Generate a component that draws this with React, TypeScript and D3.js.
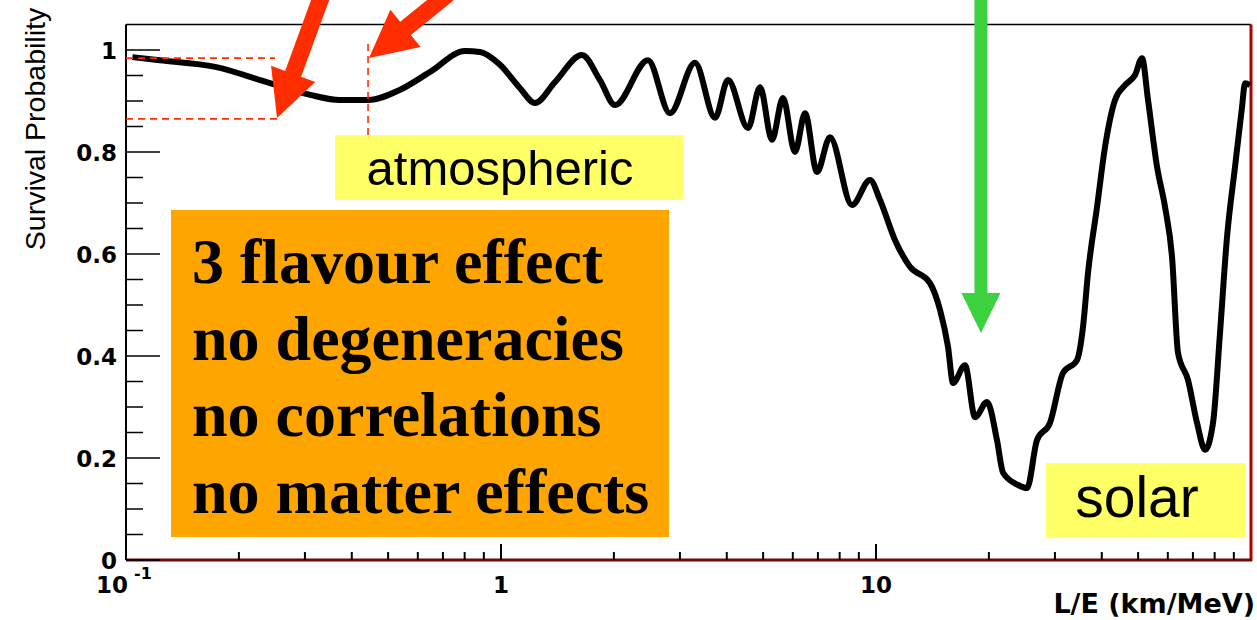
import React from "react";
import * as d3 from "d3";

// survival probability vs L/E
const leValues = [0.104, 0.123, 0.173, 0.242, 0.31, 0.372, 0.442, 0.538, 0.647, 0.802, 0.879, 0.994, 1.124, 1.232, 1.393, 1.644, 1.836, 2.014, 2.466, 2.823, 3.291, 3.722, 4.03, 4.558, 4.907, 5.28, 5.649, 6.081, 6.468, 6.96, 7.54, 8.63, 9.64, 10.25, 11.24, 12.32, 13.93, 14.82, 15.56, 16.05, 17.27, 18.37, 19.77, 21.02, 21.82, 23.92, 25.28, 26.87, 29.11, 31.53, 34.36, 35.65, 36.76, 38.85, 40.81, 43.39, 46.13, 49.06, 51.21, 53.14, 56.16, 58.99, 61.58, 63.89, 67.92, 71.78, 75.4, 79.2, 82.67, 86.3, 90.66, 94.63, 96.39, 99.4];
const survival = [0.986, 0.98, 0.967, 0.935, 0.912, 0.902, 0.902, 0.922, 0.957, 0.998, 0.996, 0.971, 0.925, 0.896, 0.937, 0.99, 0.941, 0.892, 0.98, 0.876, 0.975, 0.867, 0.941, 0.847, 0.927, 0.824, 0.906, 0.8, 0.876, 0.761, 0.829, 0.696, 0.745, 0.706, 0.627, 0.575, 0.543, 0.49, 0.418, 0.347, 0.382, 0.28, 0.31, 0.235, 0.171, 0.147, 0.141, 0.235, 0.269, 0.367, 0.392, 0.457, 0.563, 0.692, 0.81, 0.902, 0.931, 0.951, 0.984, 0.902, 0.771, 0.692, 0.594, 0.406, 0.353, 0.269, 0.216, 0.269, 0.445, 0.633, 0.771, 0.888, 0.935, 0.931];

const yMajorTicks = [0, 0.2, 0.4, 0.6, 0.8, 1];
const yTickLabels = ["0", "0.2", "0.4", "0.6", "0.8", "1"];
const xMajorTicks = [1, 10];
const xTickLabels = ["1", "10"];
const boxLines = ["3 flavour effect", "no degeneracies", "no correlations", "no matter effects"];

const RED = "#ff2d00";
const GREEN = "#3cd13f";
const AXIS_FONT = "DejaVu Sans, Verdana, sans-serif";

// polygon for a thick arrow from tail to tip
function arrowPoints(x0: number, y0: number, x1: number, y1: number, shaftW: number, headW: number, headL: number) {
  const len = Math.hypot(x1 - x0, y1 - y0);
  const ux = (x1 - x0) / len, uy = (y1 - y0) / len;
  const px = -uy, py = ux;
  const bx = x1 - ux * headL, by = y1 - uy * headL;
  const pts = [
    [x0 + px * shaftW / 2, y0 + py * shaftW / 2],
    [bx + px * shaftW / 2, by + py * shaftW / 2],
    [bx + px * headW / 2, by + py * headW / 2],
    [x1, y1],
    [bx - px * headW / 2, by - py * headW / 2],
    [bx - px * shaftW / 2, by - py * shaftW / 2],
    [x0 - px * shaftW / 2, y0 - py * shaftW / 2],
  ];
  return pts.map((p) => p.join(",")).join(" ");
}

const App = () => {
  const width = 1257, height = 620;
  const x = d3.scaleLog().domain([0.1, 100]).range([126, 1251]);
  const y = d3.scaleLinear().domain([0, 1.05]).range([560, 24.5]);

  const pts = leValues.map((v, i) => [v, survival[i]] as [number, number]);
  const line = d3.line<[number, number]>()
    .x((d) => x(d[0]))
    .y((d) => y(d[1]))
    .curve(d3.curveMonotoneX);

  const yMinor = d3.range(0, 1.001, 0.05).filter((v) => Math.abs(v * 5 - Math.round(v * 5)) > 1e-6);
  const xMinor: number[] = [];
  [0.1, 1, 10].forEach((dec) => { for (let k = 2; k <= 9; k++) xMinor.push(dec * k); });

  const atmX = 0.442; // vertical dashed marker
  const solarX = 19.05; // green arrow position

  return (
    <svg width={width} height={height} style={{ position: "absolute", left: 0, top: 0, background: "#fff" }}>
      {/* frame */}
      <line x1={x(0.1)} x2={x(100)} y1={y(1.05)} y2={y(1.05)} stroke="#000" strokeWidth={1.5} />
      <line x1={x(0.1)} x2={x(0.1)} y1={y(1.05)} y2={y(0)} stroke="#000" strokeWidth={2} />
      <line x1={x(100)} x2={x(100)} y1={y(1.05)} y2={y(0) + 1} stroke="#b00000" strokeWidth={3} />
      <line x1={x(0.1)} x2={x(100) + 1} y1={y(0)} y2={y(0)} stroke="#6a0a0a" strokeWidth={3} />

      {/* y ticks */}
      {yMajorTicks.map((v) => (
        <line key={"ym" + v} x1={x(0.1)} x2={x(0.1) + 34} y1={y(v)} y2={y(v)} stroke="#000" strokeWidth={1.5} />
      ))}
      {yMinor.map((v) => (
        <line key={"yn" + v} x1={x(0.1)} x2={x(0.1) + 17} y1={y(v)} y2={y(v)} stroke="#000" strokeWidth={1.5} />
      ))}
      {yMajorTicks.map((v, i) => (
        <text key={"yl" + v} x={117} y={y(v) + 9} textAnchor="end" fontFamily={AXIS_FONT} fontWeight="bold" fontSize={23}>
          {yTickLabels[i]}
        </text>
      ))}

      {/* x ticks */}
      {xMajorTicks.map((v) => (
        <line key={"xm" + v} x1={x(v)} x2={x(v)} y1={y(0)} y2={y(0) - 16} stroke="#000" strokeWidth={2} />
      ))}
      {xMinor.map((v) => (
        <line key={"xn" + v} x1={x(v)} x2={x(v)} y1={y(0)} y2={y(0) - 8} stroke="#000" strokeWidth={2} />
      ))}
      {xMajorTicks.map((v, i) => (
        <text key={"xl" + v} x={x(v)} y={593} textAnchor="middle" fontFamily={AXIS_FONT} fontWeight="bold" fontSize={23}>
          {xTickLabels[i]}
        </text>
      ))}
      <text x={x(0.1) - 14} y={593} textAnchor="middle" fontFamily={AXIS_FONT} fontWeight="bold" fontSize={23}>10</text>
      <text x={x(0.1) + 17} y={579} textAnchor="middle" fontFamily={AXIS_FONT} fontWeight="bold" fontSize={16}>-1</text>

      {/* axis titles */}
      <text x={1255} y={613} textAnchor="end" fontFamily={AXIS_FONT} fontWeight="bold" fontSize={27}>
        L/E (km/MeV)
      </text>
      <text transform="translate(45,129) rotate(-90)" textAnchor="middle" fontFamily="Liberation Sans, Arial, sans-serif" fontSize={28.5}>
        Survival Probability
      </text>

      {/* the curve */}
      <path d={line(pts) || ""} fill="none" stroke="#000" strokeWidth={6} strokeLinejoin="round" />

      {/* red dashed guides */}
      <line x1={x(0.1)} x2={275} y1={y(0.984)} y2={y(0.984)} stroke={RED} strokeWidth={1.6} strokeDasharray="7,5" />
      <line x1={x(0.1)} x2={277} y1={y(0.865)} y2={y(0.865)} stroke={RED} strokeWidth={1.6} strokeDasharray="7,5" />
      <line x1={x(atmX)} x2={x(atmX)} y1={44} y2={136} stroke={RED} strokeWidth={1.6} strokeDasharray="7,5" />

      {/* arrows */}
      <polygon points={arrowPoints(322, -5, 277, 118, 17, 47, 47)} fill={RED} />
      <polygon points={arrowPoints(448, -6, 369, 58, 17, 48, 47)} fill={RED} />
      <polygon points={arrowPoints(x(solarX), -5, x(solarX), 333, 13, 39, 40)} fill={GREEN} />

      {/* labels */}
      <rect x={335} y={135} width={348} height={65} fill="#ffff66" />
      <text x={500} y={185} textAnchor="middle" fontFamily="Liberation Sans, Arial, sans-serif" fontSize={49}>atmospheric</text>

      <rect x={1046} y={463} width={199} height={75} fill="#ffff66" />
      <text x={1137} y={517} textAnchor="middle" fontFamily="Liberation Sans, Arial, sans-serif" fontSize={57}>solar</text>

      <rect x={171} y={210} width={498} height={327} fill="#ffa500" />
      {boxLines.map((t, i) => (
        <text key={t} x={192} y={283 + i * 76.5} fontFamily="Liberation Serif, Times New Roman, serif" fontWeight="bold" fontSize={64}>
          {t}
        </text>
      ))}
    </svg>
  );
};

export default App;
